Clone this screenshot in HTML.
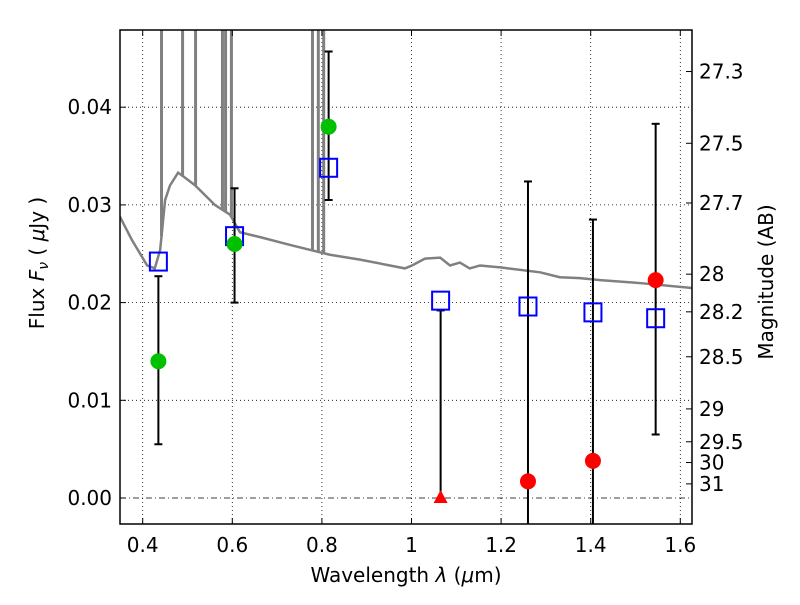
<!DOCTYPE html>
<html><head><meta charset="utf-8"><style>
body{margin:0;background:#fff}
svg{font-family:"DejaVu Sans","Liberation Sans",sans-serif}
</style></head><body>
<svg id="chart" width="800" height="600"></svg>
<script>
const specWave=[0.349,0.376,0.410,0.427,0.439,0.450,0.461,0.479,0.494,0.517,0.539,0.561,0.595,0.617,0.662,0.729,0.773,0.818,0.885,0.952,0.985,1.001,1.030,1.064,1.086,1.108,1.130,1.153,1.198,1.287,1.331,1.376,1.421,1.510,1.626];
const specFlux=[0.0288,0.0264,0.0238,0.0235,0.0254,0.0305,0.0320,0.0333,0.0328,0.0320,0.0310,0.0300,0.0290,0.0272,0.0267,0.0259,0.0254,0.0249,0.0244,0.0238,0.0235,0.0238,0.0245,0.0246,0.0238,0.0241,0.0235,0.0238,0.0236,0.0231,0.0226,0.0225,0.0223,0.0220,0.0215];
const lineWave=[0.442,0.489,0.518,0.578,0.585,0.598,0.779,0.792,0.804];
const bandWave=[0.435,0.605,0.815,1.065,1.26,1.405,1.545];
const modelFlux=[0.0242,0.0268,0.0338,0.0202,0.0196,0.0190,0.0184];
const obsFlux=[0.0140,0.0260,0.0380,0.0,0.0017,0.0038,0.0223];
const errLo=[0.0055,0.0200,0.0305,0.0,-0.003,-0.003,0.0065];
const errHi=[0.0227,0.0317,0.0457,0.0192,0.0324,0.0285,0.0383];
const obsKind=['g','g','g','t','r','r','r'];
const xTicks=[0.4,0.6,0.8,1.0,1.2,1.4,1.6];
const xTickLabels=['0.4','0.6','0.8','1','1.2','1.4','1.6'];
const yTicks=[0,0.01,0.02,0.03,0.04];
const yTickLabels=['0.00','0.01','0.02','0.03','0.04'];
const magTicks=[27.3,27.5,27.7,28,28.2,28.5,29,29.5,30,31];
const magLabels=['27.3','27.5','27.7','28','28.2','28.5','29','29.5','30','31'];

const L=120,R=692,T=30,B=524;
const X=w=>142.7+(w-0.4)*448;
const Y=f=>498-f*9770;
const ns='http://www.w3.org/2000/svg';
const svg=document.getElementById('chart');
function mk(tag,attrs,name,parent){const e=document.createElementNS(ns,tag);for(const k in attrs)e.setAttribute(k,attrs[k]);


(parent||svg).appendChild(e);return e;}
const clipDefs=mk('defs',{},'defs');
const cp=mk('clipPath',{id:'pc'},'plot-clip',clipDefs);
mk('rect',{x:L,y:T,width:R-L,height:B-T},'clip-rect',cp);
const g=mk('g',{'clip-path':'url(#pc)'},'plot-area');
xTicks.forEach(t=>mk('line',{x1:X(t),x2:X(t),y1:T,y2:B,stroke:'#000','stroke-width':0.8,'stroke-dasharray':'1,3'},'x-grid-line',g));
yTicks.forEach(t=>{if(t!==0)mk('line',{x1:L,x2:R,y1:Y(t),y2:Y(t),stroke:'#000','stroke-width':0.8,'stroke-dasharray':'1,3'},'y-grid-line',g);});
mk('line',{x1:L,x2:R,y1:Y(0),y2:Y(0),stroke:'#000','stroke-width':0.8,'stroke-dasharray':'6,3,1,3'},'zero-line',g);
function specAt(w){for(let i=0;i<specWave.length-1;i++){if(w>=specWave[i]&&w<=specWave[i+1]){const r=(w-specWave[i])/(specWave[i+1]-specWave[i]);return specFlux[i]+r*(specFlux[i+1]-specFlux[i]);}}return specFlux[specFlux.length-1];}
mk('polyline',{points:specWave.map((w,i)=>X(w)+','+Y(specFlux[i])).join(' '),fill:'none',stroke:'#808080','stroke-width':2.5},'model-spectrum',g);
lineWave.forEach(w=>mk('line',{x1:X(w),x2:X(w),y1:Y(specAt(w)),y2:T-5,stroke:'#808080','stroke-width':3},'emission-line',g));
bandWave.forEach((w,i)=>{const x=X(w);
mk('line',{x1:x,x2:x,y1:Y(errLo[i]),y2:Y(errHi[i]),stroke:'#000','stroke-width':2},'error-bar',g);
mk('line',{x1:x-4,x2:x+4,y1:Y(errHi[i]),y2:Y(errHi[i]),stroke:'#000','stroke-width':2},'error-cap-top',g);
if(errLo[i]>0)mk('line',{x1:x-4,x2:x+4,y1:Y(errLo[i]),y2:Y(errLo[i]),stroke:'#000','stroke-width':2},'error-cap-bottom',g);});
bandWave.forEach((w,i)=>mk('rect',{x:X(w)-8.5,y:Y(modelFlux[i])-9,width:17,height:18,fill:'none',stroke:'#0000ff','stroke-width':2},'model-band-flux',g));
bandWave.forEach((w,i)=>{const x=X(w),y=Y(obsFlux[i]);
if(obsKind[i]==='t')mk('polygon',{points:`${x},${y-8} ${x-7},${y+5} ${x+7},${y+5}`,fill:'#ff0000'},'upper-limit-marker',g);
else mk('circle',{cx:x,cy:y,r:8,fill:obsKind[i]==='g'?'#00c000':'#ff0000'},obsKind[i]==='g'?'detection-point':'nondetection-point',g);});
mk('rect',{x:L,y:T,width:R-L,height:B-T,fill:'none',stroke:'#000','stroke-width':1.5},'plot-frame');
xTicks.forEach((t,i)=>{mk('line',{x1:X(t),x2:X(t),y1:B,y2:B-6,stroke:'#000'},'x-tick');mk('line',{x1:X(t),x2:X(t),y1:T,y2:T+6,stroke:'#000'},'x-tick-top');
const tx=mk('text',{x:X(t),y:B+28,'text-anchor':'middle','font-size':20},'x-tick-label');tx.textContent=xTickLabels[i];});
yTicks.forEach((t,i)=>{mk('line',{x1:L,x2:L+6,y1:Y(t),y2:Y(t),stroke:'#000'},'y-tick');
const tx=mk('text',{x:L-8,y:Y(t)+7,'text-anchor':'end','font-size':20},'y-tick-label');tx.textContent=yTickLabels[i];});
magTicks.forEach((m,i)=>{const y=Y(Math.pow(10,(23.9-m)/2.5));mk('line',{x1:R,x2:R-6,y1:y,y2:y,stroke:'#000'},'mag-tick');
const tx=mk('text',{x:R+7,y:y+7,'font-size':20},'mag-tick-label');tx.textContent=magLabels[i];});
const xl=mk('text',{x:406,y:582,'text-anchor':'middle','font-size':20},'x-axis-title');xl.innerHTML='Wavelength  <tspan font-style="italic">λ</tspan> (<tspan font-style="italic">μ</tspan>m)';
const yl=mk('text',{transform:'translate(44,263) rotate(-90)','text-anchor':'middle','font-size':20},'y-axis-title');yl.innerHTML='Flux  <tspan font-style="italic">F<tspan font-size="14" dy="4">ν</tspan></tspan><tspan dy="-4">  (  </tspan><tspan font-style="italic">μ</tspan>Jy )';
const ml=mk('text',{transform:'translate(773,282) rotate(-90)','text-anchor':'middle','font-size':20},'magnitude-axis-title');ml.textContent='Magnitude (AB)';
</script>
</body></html>
